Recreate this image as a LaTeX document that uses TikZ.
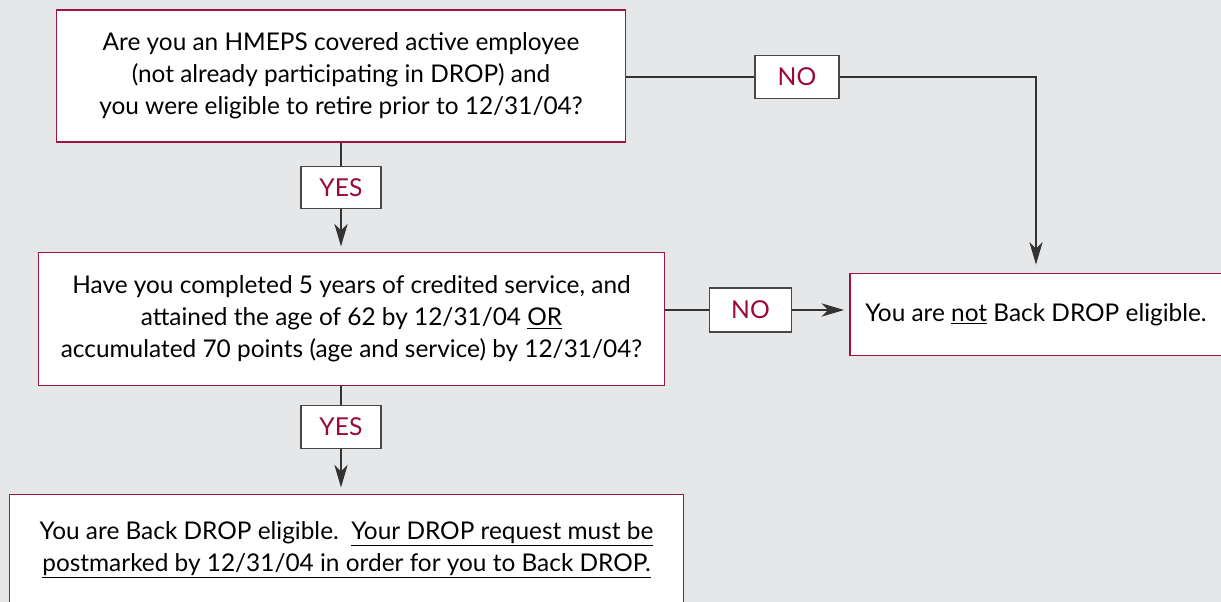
\documentclass[tikz,border=0pt]{standalone}
\usepackage{fontspec}
\setmainfont{Lato}
\usetikzlibrary{arrows.meta}
\definecolor{bggray}{HTML}{E6E7E9}
\definecolor{maroon}{HTML}{A01440}
\definecolor{labred}{HTML}{9B0A36}
\definecolor{linegray}{HTML}{333333}

\tikzset{
  qbox/.style={draw=maroon, fill=white, line width=0.9pt, align=center, inner sep=0pt,
    font=\fontsize{18.3}{24}\selectfont},
  lbox/.style={draw=linegray!90, fill=white, line width=0.9pt, inner sep=0pt,
    text=labred, font=\fontsize{18.5}{20}\selectfont},
  conn/.style={draw=linegray, line width=0.9pt},
  arr/.style={conn, -{Stealth[length=17pt, width=10pt, inset=5pt]}}
}

\begin{document}
\begin{tikzpicture}[x=0.75pt, y=-0.75pt]
  \useasboundingbox (0,0) rectangle (1221,602);
  \clip (0,0) rectangle (1221,602);
  \fill[bggray] (0,0) rectangle (1221,602);
  % question boxes
  \node[qbox, minimum width=427pt, minimum height=99pt] (q1) at (341,76)
    {Are you an HMEPS covered active employee\\(not already participating in DROP) and\\you were eligible to retire prior to 12/31/04?};
  \node[qbox, minimum width=470pt, minimum height=100pt] (q2) at (351.5,319)
    {Have you completed 5 years of credited service, and\\attained the age of 62 by 12/31/04 \underline{OR}\\accumulated 70 points (age and service) by 12/31/04?};
  \node[qbox, minimum width=279pt, minimum height=62pt] (notok) at (1036,314.5)
    {You are \underline{not} Back DROP eligible.};
  \node[qbox, minimum width=505pt, minimum height=83pt] (ok) at (346.5,550)
    {You are Back DROP eligible.\ \ \underline{Your DROP request must be}\\\underline{postmarked by 12/31/04 in order for you to Back DROP.}};
  % answer labels
  \node[lbox, minimum width=60pt, minimum height=32pt] (yes1) at (341,187.5) {YES};
  \node[lbox, minimum width=60pt, minimum height=32pt] (yes2) at (341,427) {YES};
  \node[lbox, minimum width=63pt, minimum height=32pt] (no1) at (797,77) {NO};
  \node[lbox, minimum width=62pt, minimum height=33pt] (no2) at (750.5,310) {NO};
  % connectors
  \draw[conn] (q1.south -| yes1) -- (yes1);
  \draw[arr, shorten >=4pt] (yes1) -- (q2.north -| yes1);
  \draw[conn] (q2.south -| yes2) -- (yes2);
  \draw[arr, shorten >=5pt] (yes2) -- (ok.north -| yes2);
  \draw[conn] (q1.east |- no1) -- (no1);
  \draw[arr, shorten >=6pt] (no1) -| (notok.north);
  \draw[conn] (q2.east |- no2) -- (no2);
  \draw[arr, shorten >=4pt] (no2) -- (no2 -| notok.west);
\end{tikzpicture}
\end{document}
